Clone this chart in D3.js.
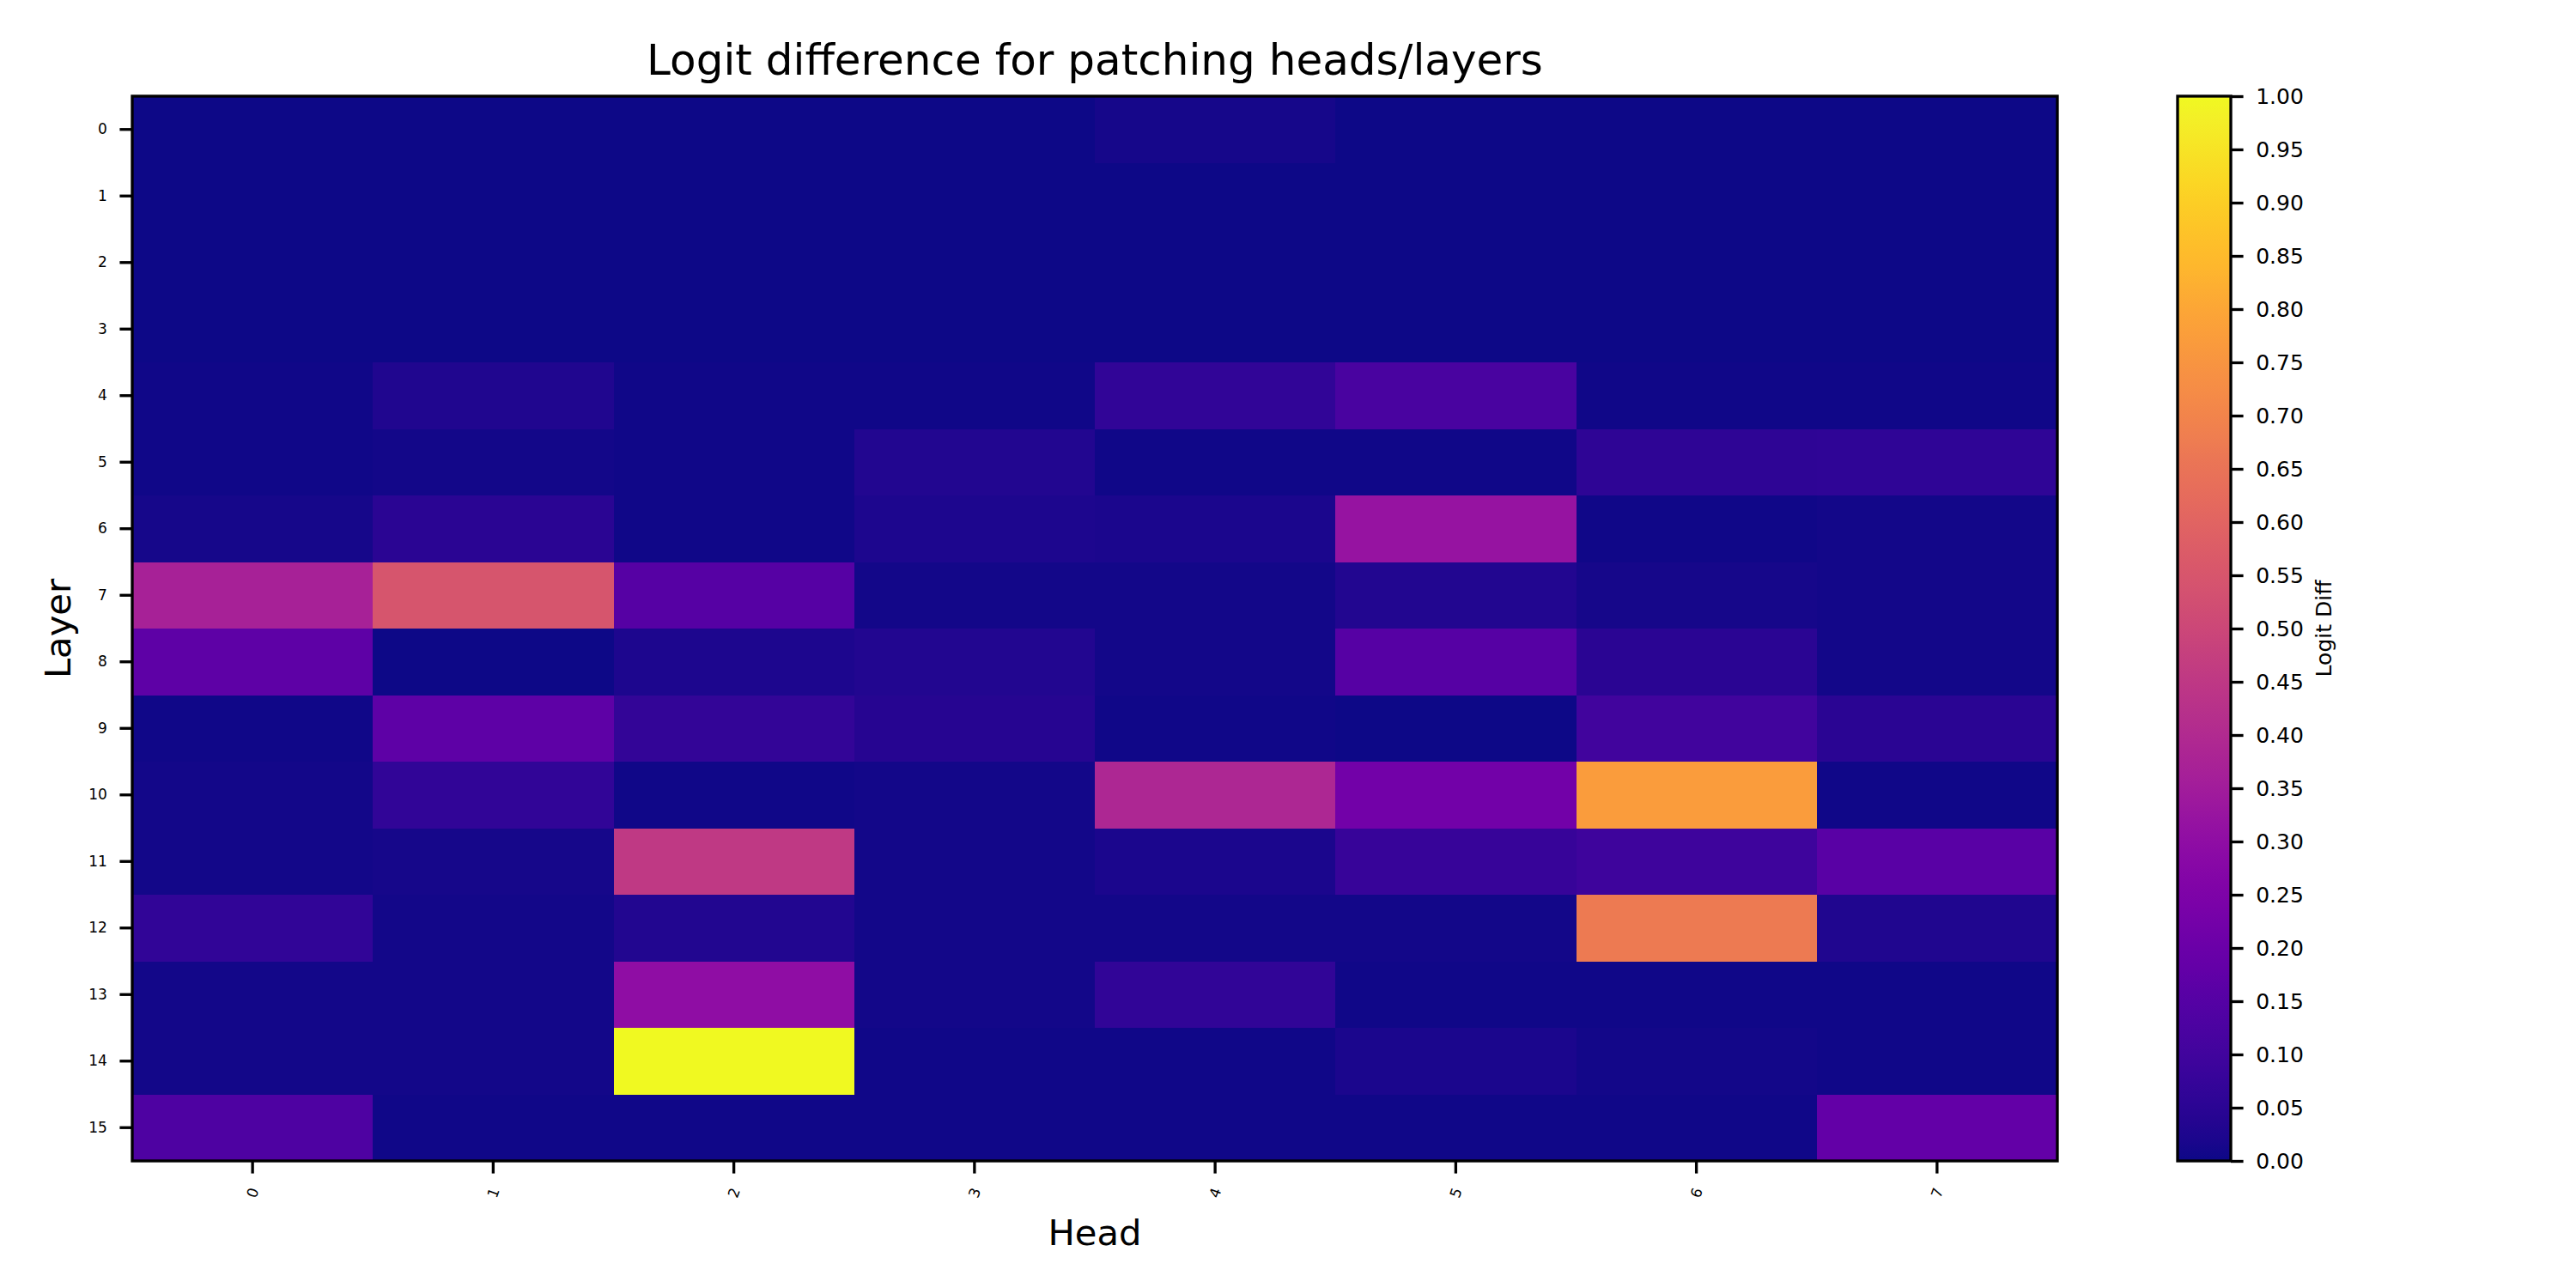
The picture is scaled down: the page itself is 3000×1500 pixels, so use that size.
<!DOCTYPE html>
<html>
<head>
<meta charset="utf-8">
<script src="https://cdn.jsdelivr.net/npm/d3@7"></script>
<style>
  body { margin: 0; background: #fff; }
  text { font-family: "DejaVu Sans", sans-serif; fill: #000; }
</style>
</head>
<body>
<div id="chart"></div>
<script>
// heads along x, layers along y
const heads = [0, 1, 2, 3, 4, 5, 6, 7];
const layers = [0, 1, 2, 3, 4, 5, 6, 7, 8, 9, 10, 11, 12, 13, 14, 15];

// logit diff per layer (row), one value per head
const layer0  = [0.00, 0.00, 0.00, 0.00, 0.015, 0.00, 0.00, 0.00];
const layer1  = [0.00, 0.00, 0.00, 0.00, 0.00, 0.00, 0.00, 0.00];
const layer2  = [0.00, 0.00, 0.00, 0.00, 0.00, 0.00, 0.00, 0.00];
const layer3  = [0.00, 0.00, 0.00, 0.00, 0.00, 0.00, 0.00, 0.00];
const layer4  = [0.005, 0.03, 0.005, 0.005, 0.065, 0.12, 0.005, 0.005];
const layer5  = [0.005, 0.01, 0.005, 0.035, 0.005, 0.005, 0.055, 0.06];
const layer6  = [0.015, 0.05, 0.005, 0.025, 0.02, 0.32, 0.005, 0.01];
const layer7  = [0.37, 0.55, 0.15, 0.01, 0.01, 0.035, 0.015, 0.01];
const layer8  = [0.17, 0.00, 0.025, 0.035, 0.01, 0.15, 0.05, 0.01];
const layer9  = [0.005, 0.17, 0.07, 0.04, 0.005, 0.00, 0.10, 0.05];
const layer10 = [0.01, 0.065, 0.005, 0.01, 0.39, 0.22, 0.77, 0.005];
const layer11 = [0.01, 0.015, 0.45, 0.01, 0.02, 0.075, 0.09, 0.16];
const layer12 = [0.065, 0.01, 0.035, 0.01, 0.01, 0.01, 0.67, 0.03];
const layer13 = [0.01, 0.01, 0.30, 0.01, 0.065, 0.005, 0.005, 0.005];
const layer14 = [0.01, 0.01, 1.00, 0.005, 0.005, 0.02, 0.01, 0.005];
const layer15 = [0.13, 0.005, 0.005, 0.005, 0.005, 0.005, 0.005, 0.18];
const rows = [layer0, layer1, layer2, layer3, layer4, layer5, layer6, layer7,
              layer8, layer9, layer10, layer11, layer12, layer13, layer14, layer15];

const cbTicks = d3.range(0, 21).map(i => i / 20);

const W = 3000, H = 1500;
const lw = 3.33;       // 0.8pt at 300 dpi
const tickLen = 14.6;

const svg = d3.select("#chart").append("svg")
  .attr("width", W).attr("height", H);

const ax = {left: 154, right: 2396, top: 112, bottom: 1352};

const x = d3.scaleBand().domain(heads).range([ax.left, ax.right]).padding(0);
const y = d3.scaleBand().domain(layers).range([ax.top, ax.bottom]).padding(0);
const color = d3.scaleSequential(d3.interpolatePlasma).domain([0, 1]);

// flatten into cells
var cells = [];
rows.forEach((r, li) => {
  r.forEach((v, hi) => cells.push({layer: layers[li], head: heads[hi], value: v}));
});

svg.append("g").selectAll("rect")
  .data(cells)
  .join("rect")
  .attr("x", d => x(d.head))
  .attr("y", d => y(d.layer))
  .attr("width", x.bandwidth() + 0.5)
  .attr("height", y.bandwidth() + 0.5)
  .attr("fill", d => color(d.value))
  .attr("shape-rendering", "crispEdges");

// frame
svg.append("rect")
  .attr("x", ax.left).attr("y", ax.top)
  .attr("width", ax.right - ax.left).attr("height", ax.bottom - ax.top)
  .attr("fill", "none").attr("stroke", "#000").attr("stroke-width", lw);

// y axis
const yAxis = svg.append("g")
  .attr("transform", "translate(" + ax.left + ",0)")
  .call(d3.axisLeft(y).tickSize(tickLen).tickPadding(14.6));
yAxis.select(".domain").remove();
yAxis.selectAll(".tick line").attr("stroke-width", lw);
yAxis.selectAll(".tick text")
  .style("font-size", "17px")
  .style("font-family", "DejaVu Sans");

// x axis
const xAxis = svg.append("g")
  .attr("transform", "translate(0," + ax.bottom + ")")
  .call(d3.axisBottom(x).tickSize(tickLen));
xAxis.select(".domain").remove();
xAxis.selectAll(".tick line").attr("stroke-width", lw);
xAxis.selectAll(".tick text")
  .attr("y", 0).attr("dy", null)
  .attr("text-anchor", "middle")
  .attr("dominant-baseline", "central")
  .attr("transform", "translate(0,37) rotate(-70)")
  .style("font-size", "17px")
  .style("font-family", "DejaVu Sans");

// title + labels
svg.append("text")
  .attr("x", (ax.left + ax.right) / 2).attr("y", 87)
  .attr("text-anchor", "middle")
  .style("font-size", "50px")
  .text("Logit difference for patching heads/layers");

svg.append("text")
  .attr("x", (ax.left + ax.right) / 2).attr("y", 1450)
  .attr("text-anchor", "middle")
  .style("font-size", "41.7px")
  .text("Head");

svg.append("text")
  .attr("transform", "translate(82," + (ax.top + ax.bottom) / 2 + ") rotate(-90)")
  .attr("text-anchor", "middle")
  .style("font-size", "41.7px")
  .text("Layer");

// colorbar
const cb = {left: 2536, right: 2598, top: 112, bottom: 1352};
const defs = svg.append("defs");
const grad = defs.append("linearGradient")
  .attr("id", "plasma")
  .attr("x1", "0").attr("y1", "1").attr("x2", "0").attr("y2", "0");
grad.selectAll("stop")
  .data(d3.range(0, 1.0001, 0.02))
  .join("stop")
  .attr("offset", d => d)
  .attr("stop-color", d => color(d));

svg.append("rect")
  .attr("x", cb.left).attr("y", cb.top)
  .attr("width", cb.right - cb.left).attr("height", cb.bottom - cb.top)
  .attr("fill", "url(#plasma)")
  .attr("stroke", "#000").attr("stroke-width", lw);

const cbScale = d3.scaleLinear().domain([0, 1]).range([cb.bottom, cb.top]);
const cbAxis = svg.append("g")
  .attr("transform", "translate(" + cb.right + ",0)")
  .call(d3.axisRight(cbScale).tickValues(cbTicks).tickFormat(d3.format(".2f"))
    .tickSize(tickLen).tickPadding(14.6));
cbAxis.select(".domain").remove();
cbAxis.selectAll(".tick line").attr("stroke-width", lw);
cbAxis.selectAll(".tick text")
  .style("font-size", "25px")
  .style("font-family", "DejaVu Sans");

svg.append("text")
  .attr("transform", "translate(2715," + (cb.top + cb.bottom) / 2 + ") rotate(-90)")
  .attr("text-anchor", "middle")
  .style("font-size", "25px")
  .text("Logit Diff");
</script>
</body>
</html>
